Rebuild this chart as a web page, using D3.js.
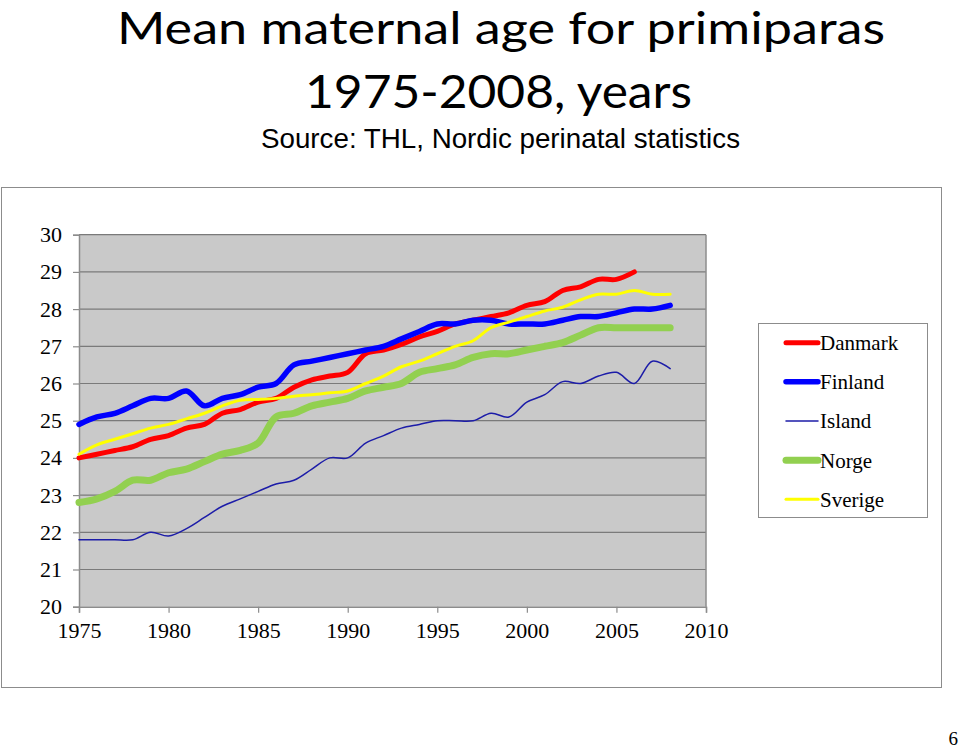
<!DOCTYPE html>
<html>
<head>
<meta charset="utf-8">
<script src="https://cdn.jsdelivr.net/npm/d3@7"></script>
<style>
  html, body { margin: 0; padding: 0; background: #fff; }
  svg { display: block; }
</style>
</head>
<body>
<svg id="chart" width="960" height="750"></svg>
<script>
const years = d3.range(1975, 2009);
const seriesNames = ["Danmark", "Finland", "Island", "Norge", "Sverige"];
const danmark = [24.0, 24.1, 24.2, 24.3, 24.5, 24.6, 24.8, 24.9, 25.2, 25.3, 25.5, 25.6, 25.9, 26.1, 26.2, 26.3, 26.8, 26.9, 27.05, 27.25, 27.4, 27.6, 27.7, 27.8, 27.9, 28.1, 28.2, 28.5, 28.6, 28.8, 28.8, 29.0];
const finland = [24.9, 25.1, 25.2, 25.4, 25.6, 25.6, 25.8, 25.4, 25.6, 25.7, 25.9, 26.0, 26.5, 26.6, 26.7, 26.8, 26.9, 27.0, 27.2, 27.4, 27.6, 27.6, 27.7, 27.7, 27.6, 27.6, 27.6, 27.7, 27.8, 27.8, 27.9, 28.0, 28.0, 28.1];
const island = [21.8, 21.8, 21.8, 21.8, 22.0, 21.9, 22.1, 22.4, 22.7, 22.9, 23.1, 23.3, 23.4, 23.7, 24.0, 24.0, 24.4, 24.6, 24.8, 24.9, 25.0, 25.0, 25.0, 25.2, 25.1, 25.5, 25.7, 26.05, 26.0, 26.2, 26.3, 26.0, 26.6, 26.4];
const norge = [22.8, 22.9, 23.1, 23.4, 23.4, 23.6, 23.7, 23.9, 24.1, 24.2, 24.4, 25.1, 25.2, 25.4, 25.5, 25.6, 25.8, 25.9, 26.0, 26.3, 26.4, 26.5, 26.7, 26.8, 26.8, 26.9, 27.0, 27.1, 27.3, 27.5, 27.5, 27.5, 27.5, 27.5];
const sverige = [24.1, 24.35, 24.5, 24.65, 24.8, 24.9, 25.05, 25.2, 25.4, 25.55, 25.57, 25.6, 25.66, 25.7, 25.75, 25.8, 26.0, 26.2, 26.45, 26.6, 26.8, 27.0, 27.15, 27.5, 27.65, 27.8, 27.95, 28.05, 28.25, 28.4, 28.4, 28.5, 28.4, 28.4];
const xTicks = [1975, 1980, 1985, 1990, 1995, 2000, 2005, 2010];
const yTicks = [20, 21, 22, 23, 24, 25, 26, 27, 28, 29, 30];
const titleLines = ["Mean maternal age for primiparas", "1975-2008, years"];
const subtitle = "Source: THL, Nordic perinatal statistics";
const pageNumber = "6";

const seriesValues = [danmark, finland, island, norge, sverige];
const seriesColors = ["#ff0000", "#0000ff", "#1c1ca8", "#92d050", "#ffff00"];
const seriesWidths = [5, 5.5, 1.5, 7, 3];

const svg = d3.select("#chart");

// Outer chart frame
svg.append("rect")
  .attr("x", 1.5).attr("y", 187.5).attr("width", 940).attr("height", 500)
  .attr("fill", "#fff").attr("stroke", "#8c8c8c").attr("stroke-width", 1);

// Titles
svg.append("text").text(titleLines[0])
  .attr("x", 501).attr("y", 44).attr("text-anchor", "middle")
  .attr("font-family", "Lato, 'Open Sans', sans-serif").attr("font-size", 44)
  .attr("textLength", 768).attr("lengthAdjust", "spacingAndGlyphs").attr("fill", "#000");
svg.append("text").text(titleLines[1])
  .attr("x", 498.5).attr("y", 108).attr("text-anchor", "middle")
  .attr("font-family", "Lato, 'Open Sans', sans-serif").attr("font-size", 46)
  .attr("textLength", 387).attr("lengthAdjust", "spacingAndGlyphs").attr("fill", "#000");
svg.append("text").text(subtitle)
  .attr("x", 500.5).attr("y", 148).attr("text-anchor", "middle")
  .attr("font-family", "'Liberation Sans', Arial, sans-serif").attr("font-size", 28)
  .attr("textLength", 479).attr("lengthAdjust", "spacingAndGlyphs").attr("fill", "#000");

// Scales
const x = d3.scaleLinear().domain([1975, 2010]).range([79, 706]);
const y = d3.scaleLinear().domain([20, 30]).range([606.7, 234.7]);

// Plot area
svg.append("rect")
  .attr("x", x(1975)).attr("y", y(30))
  .attr("width", x(2010) - x(1975)).attr("height", y(20) - y(30))
  .attr("fill", "#c9c9c9");

// Gridlines
svg.append("g").selectAll("line").data(yTicks.filter(d => d > 20)).join("line")
  .attr("x1", x(1975)).attr("x2", x(2010))
  .attr("y1", d => y(d)).attr("y2", d => y(d))
  .attr("stroke", "#7a7a7a").attr("stroke-width", 1.2);

// Right border of plot
svg.append("line")
  .attr("x1", x(2010)).attr("x2", x(2010)).attr("y1", y(30)).attr("y2", y(20))
  .attr("stroke", "#8c8c8c").attr("stroke-width", 1.5);

// Axes
const yAxis = d3.axisLeft(y).tickValues(yTicks).tickSize(6).tickPadding(11).tickFormat(d3.format("d"));
const gy = svg.append("g").attr("transform", `translate(${x(1975)},0)`).call(yAxis);
gy.select(".domain").attr("stroke", "#8c8c8c").attr("stroke-width", 1.5);
gy.selectAll(".tick line").attr("stroke", "#8c8c8c").attr("stroke-width", 1.2);
gy.selectAll(".tick text")
  .attr("font-family", "'Liberation Serif', 'Times New Roman', serif").attr("font-size", 22).attr("fill", "#000");

const xAxis = d3.axisBottom(x).tickValues(xTicks).tickSize(6).tickPadding(10).tickFormat(d3.format("d"));
const gx = svg.append("g").attr("transform", `translate(0,${y(20)})`).call(xAxis);
gx.select(".domain").attr("stroke", "#8c8c8c").attr("stroke-width", 1.5);
gx.selectAll(".tick line").attr("stroke", "#8c8c8c").attr("stroke-width", 1.2);
gx.selectAll(".tick text")
  .attr("font-family", "'Liberation Serif', 'Times New Roman', serif").attr("font-size", 22).attr("fill", "#000");

// Lines
const line = d3.line()
  .x(d => x(d[0])).y(d => y(d[1]))
  .curve(d3.curveCatmullRom.alpha(0.5));

seriesValues.forEach((vals, i) => {
  const pts = vals.map((v, j) => [years[j], v]);
  svg.append("path")
    .datum(pts)
    .attr("d", line)
    .attr("fill", "none")
    .attr("stroke", seriesColors[i])
    .attr("stroke-width", seriesWidths[i])
    .attr("stroke-linejoin", "round")
    .attr("stroke-linecap", "round");
});

// Legend
const lg = svg.append("g");
lg.append("rect")
  .attr("x", 758.5).attr("y", 323.5).attr("width", 169).attr("height", 194)
  .attr("fill", "#fff").attr("stroke", "#8c8c8c").attr("stroke-width", 1);
const rowY = d3.scaleLinear().domain([0, 4]).range([342.7, 499.3]);
seriesNames.forEach((name, i) => {
  lg.append("line")
    .attr("x1", 786).attr("x2", 818)
    .attr("y1", rowY(i)).attr("y2", rowY(i))
    .attr("stroke", seriesColors[i]).attr("stroke-width", seriesWidths[i])
    .attr("stroke-linecap", "round");
  lg.append("text").text(name)
    .attr("x", 820).attr("y", rowY(i)).attr("dy", "0.35em")
    .attr("font-family", "'Liberation Serif', 'Times New Roman', serif").attr("font-size", 21)
    .attr("fill", "#000");
});

// Page number
svg.append("text").text(pageNumber)
  .attr("x", 958).attr("y", 745).attr("text-anchor", "end")
  .attr("font-family", "'Liberation Serif', 'Times New Roman', serif").attr("font-size", 19)
  .attr("fill", "#000");
</script>
</body>
</html>
